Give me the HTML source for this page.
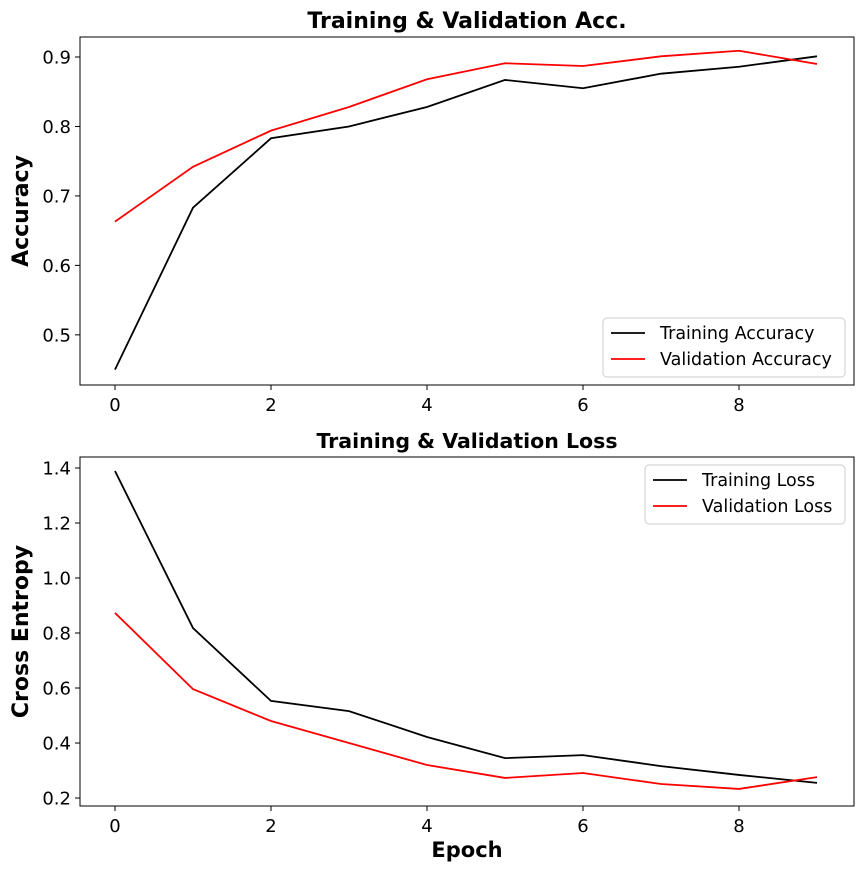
<!DOCTYPE html>
<html><head><meta charset="utf-8"><style>
body{margin:0;background:#fff}
svg text{font-family:"DejaVu Sans","Liberation Sans",sans-serif}
</style></head><body>
<svg id="c" width="864" height="870" xmlns="http://www.w3.org/2000/svg"></svg>
<script>
const epochs=[0,1,2,3,4,5,6,7,8,9];
const trainAcc=[0.450,0.683,0.783,0.800,0.828,0.867,0.855,0.876,0.886,0.901];
const valAcc=[0.663,0.742,0.794,0.828,0.868,0.891,0.887,0.901,0.909,0.890];
const trainLoss=[1.389,0.818,0.553,0.516,0.422,0.345,0.356,0.316,0.284,0.255];
const valLoss=[0.873,0.596,0.480,0.400,0.320,0.273,0.291,0.251,0.233,0.276];
const xTicks=[0,2,4,6,8];
const accTicks=[0.5,0.6,0.7,0.8,0.9];
const lossTicks=[0.2,0.4,0.6,0.8,1.0,1.2,1.4];
const svg=document.getElementById('c');
const NS='http://www.w3.org/2000/svg';
function mk(t,a,p){const e=document.createElementNS(NS,t);for(const k in a)e.setAttribute(k,a[k]);(p||svg).appendChild(e);return e;}
function panel(o){
  const g=mk('g',{});
  
  
  const X=v=>115+(v-0)*78;
  const Y=v=>o.y0+(v-o.ymin)/(o.ymax-o.ymin)*(o.y1-o.y0);
  xTicks.forEach(t=>{
    mk('line',{x1:X(t),x2:X(t),y1:o.y0,y2:o.y0+5,stroke:'#000','stroke-width':1},g);
    const tx=mk('text',{x:X(t),y:o.y0+26,'font-size':18,'text-anchor':'middle'},g);tx.textContent=t;
    
    
  });
  o.ticks.forEach(t=>{
    mk('line',{x1:80,x2:75,y1:Y(t),y2:Y(t),stroke:'#000','stroke-width':1},g);
    const tx=mk('text',{x:71,y:Y(t)+6.5,'font-size':18,'text-anchor':'end'},g);tx.textContent=t.toFixed(1);
    
    
  });
  o.series.forEach(s=>{
    const p=mk('polyline',{points:epochs.map((e,i)=>X(e)+','+Y(s.v[i])).join(' '),fill:'none',stroke:s.c,'stroke-width':1.8},g);
    
    
  });
  mk('rect',{x:80,y:o.y1,width:774,height:o.y0-o.y1,fill:'none',stroke:'#000','stroke-width':1},g);
  const ti=mk('text',{x:467,y:o.y1-9,'font-size':o.tfs,'font-weight':'bold','text-anchor':'middle'},g);ti.textContent=o.title;
  
  
  const yl=mk('text',{x:0,y:0,'font-size':22,'font-weight':'bold','text-anchor':'middle',transform:`translate(28,${(o.y0+o.y1)/2}) rotate(-90)`},g);yl.textContent=o.ylabel;
  
  
  const L=o.leg;
  const lg=mk('g',{},g);
  
  
  mk('rect',{x:L.x,y:L.y,width:L.w,height:59,rx:4,fill:'#fff',stroke:'#ccc'},lg);
  o.series.forEach((s,i)=>{
    const yy=L.y+15+i*26;
    mk('line',{x1:L.x+8,x2:L.x+42,y1:yy,y2:yy,stroke:s.c,'stroke-width':1.8},lg);
    const t=mk('text',{x:L.x+57,y:yy+6,'font-size':17.5},lg);t.textContent=s.label;
    
    
  });
}
panel({name:'accuracy-chart',y0:385,y1:37,ymin:0.4278,ymax:0.9288,ticks:accTicks,title:'Training & Validation Acc.',tfs:22,ylabel:'Accuracy',
  series:[{v:trainAcc,c:'#000',n:'training-accuracy-line',label:'Training Accuracy'},{v:valAcc,c:'#f00',n:'validation-accuracy-line',label:'Validation Accuracy'}],
  leg:{x:603,y:318,w:242}});
panel({name:'loss-chart',y0:806,y1:457,ymin:0.171,ymax:1.44,ticks:lossTicks,title:'Training & Validation Loss',tfs:20.5,ylabel:'Cross Entropy',
  series:[{v:trainLoss,c:'#000',n:'training-loss-line',label:'Training Loss'},{v:valLoss,c:'#f00',n:'validation-loss-line',label:'Validation Loss'}],
  leg:{x:645,y:465,w:200}});
const xl=mk('text',{x:467,y:857,'font-size':21,'font-weight':'bold','text-anchor':'middle'});xl.textContent='Epoch';


</script>
</body></html>
